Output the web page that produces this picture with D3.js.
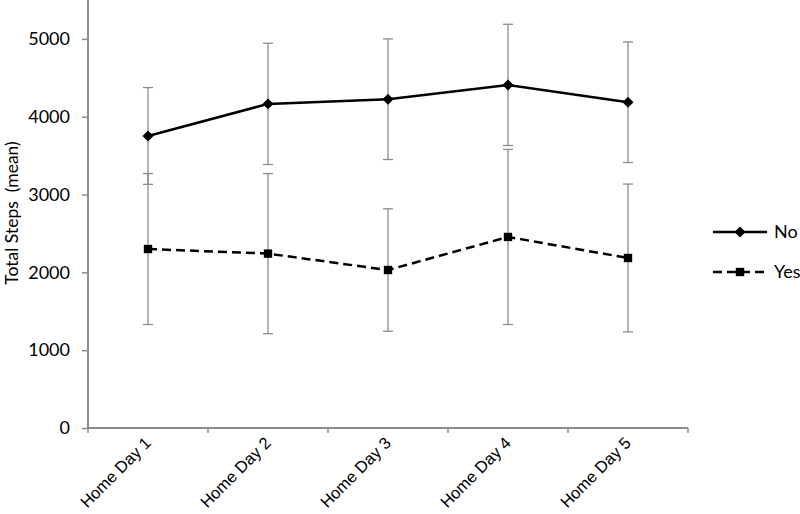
<!DOCTYPE html>
<html>
<head>
<meta charset="utf-8">
<script src="https://cdn.jsdelivr.net/npm/d3@7"></script>
<style>
  html, body { margin: 0; padding: 0; background: #fff; }
  svg { display: block; }
</style>
</head>
<body>
<svg id="chart" width="800" height="514"></svg>
<script>
const categories = ["Home Day 1", "Home Day 2", "Home Day 3", "Home Day 4", "Home Day 5"];
const seriesNames = ["No", "Yes"];
const noMeans = [3753, 4165, 4225, 4409, 4186];
const noErrors = [622, 779, 775, 779, 775];
const yesMeans = [2300, 2241, 2030, 2455, 2185];
const yesErrors = [970, 1029, 787, 1125, 950];
const yTicks = [0, 1000, 2000, 3000, 4000, 5000];

(function () {
const svg = d3.select("#chart");
const mLeft = 88, mRight = 688, mTop = 0, mBottom = 428;
const gray = "#8c8c8c";
const uiFont = "Lato, 'Open Sans', sans-serif";

const x = d3.scaleBand().domain(categories).range([mLeft, mRight]);
const y = d3.scaleLinear().domain([0, 5500]).range([mBottom, mTop]);

// Y axis
const yAxis = svg.append("g").attr("transform", `translate(${mLeft},0)`)
  .call(d3.axisLeft(y).tickValues(yTicks).tickSize(6).tickPadding(12).tickFormat(d3.format("d")));
yAxis.select(".domain").attr("d", `M0,${y(5500)}V${mBottom}`).attr("stroke", gray).attr("stroke-width", 2);
yAxis.selectAll(".tick line").attr("stroke", gray).attr("stroke-width", 1.5);
yAxis.selectAll(".tick text").attr("fill", "#000").style("font-family", uiFont).style("font-size", "18px");

// X axis
const xAxis = svg.append("g").attr("transform", `translate(0,${mBottom})`);
xAxis.append("line").attr("x1", mLeft).attr("x2", mRight).attr("y1", 0).attr("y2", 0)
  .attr("stroke", gray).attr("stroke-width", 2);
const bounds = categories.map(c => x(c)).concat([x(categories[categories.length - 1]) + x.bandwidth()]);
xAxis.selectAll("line.tk").data(bounds).join("line").attr("class", "tk")
  .attr("x1", d => d).attr("x2", d => d).attr("y1", 0).attr("y2", 5)
  .attr("stroke", gray).attr("stroke-width", 1.5);
xAxis.selectAll("text.lbl").data(categories).join("text").attr("class", "lbl")
  .attr("transform", d => `translate(${x(d) + x.bandwidth() / 2 + 4},${16}) rotate(-45)`)
  .attr("text-anchor", "end")
  .style("font-family", "'Liberation Sans', Arial, sans-serif")
  .style("font-size", "16.5px")
  .attr("fill", "#000")
  .text(d => d);

// Y title
svg.append("text")
  .attr("transform", `translate(18,${213}) rotate(-90)`)
  .attr("text-anchor", "middle")
  .style("font-family", uiFont).style("font-size", "17.5px")
  .style("white-space", "pre")
  .attr("fill", "#000")
  .text("Total Steps  (mean)");

const cx = d => x(d) + x.bandwidth() / 2;

function drawErrors(means, errs) {
  const g = svg.append("g").attr("stroke", gray).attr("stroke-width", 1.3);
  categories.forEach((c, i) => {
    const hi = y(means[i] + errs[i]), lo = y(means[i] - errs[i]);
    g.append("line").attr("x1", cx(c)).attr("x2", cx(c)).attr("y1", hi).attr("y2", lo);
    g.append("line").attr("x1", cx(c) - 5).attr("x2", cx(c) + 5).attr("y1", hi).attr("y2", hi);
    g.append("line").attr("x1", cx(c) - 5).attr("x2", cx(c) + 5).attr("y1", lo).attr("y2", lo);
  });
}
drawErrors(noMeans, noErrors);
drawErrors(yesMeans, yesErrors);

const line = d3.line().x((d, i) => cx(categories[i])).y(d => y(d));
svg.append("path").datum(noMeans).attr("d", line)
  .attr("fill", "none").attr("stroke", "#000").attr("stroke-width", 2.5);
svg.append("path").datum(yesMeans).attr("d", line)
  .attr("fill", "none").attr("stroke", "#000").attr("stroke-width", 2.5)
  .attr("stroke-dasharray", "9,5");

const diamond = d3.symbol().type(d3.symbolSquare).size(60);
const square = d3.symbol().type(d3.symbolSquare).size(70);
svg.append("g").selectAll("path").data(noMeans).join("path")
  .attr("transform", (d, i) => `translate(${cx(categories[i])},${y(d)}) rotate(45)`)
  .attr("d", diamond).attr("fill", "#000");
svg.append("g").selectAll("path").data(yesMeans).join("path")
  .attr("transform", (d, i) => `translate(${cx(categories[i])},${y(d)})`)
  .attr("d", square).attr("fill", "#000");

// Legend
const legend = svg.append("g");
const legY = [232, 272];
seriesNames.forEach((name, i) => {
  const ly = legY[i];
  legend.append("line").attr("x1", 713).attr("x2", 767).attr("y1", ly).attr("y2", ly)
    .attr("stroke", "#000").attr("stroke-width", 2.5)
    .attr("stroke-dasharray", i === 1 ? "9,5" : null);
  legend.append("path")
    .attr("transform", `translate(740,${ly})` + (i === 0 ? " rotate(45)" : ""))
    .attr("d", i === 0 ? diamond : square)
    .attr("fill", "#000");
  legend.append("text").attr("x", 774).attr("y", ly).attr("dy", "0.35em")
    .style("font-family", uiFont).style("font-size", "18px").attr("fill", "#000")
    .text(name);
});
})();
</script>
</body>
</html>
